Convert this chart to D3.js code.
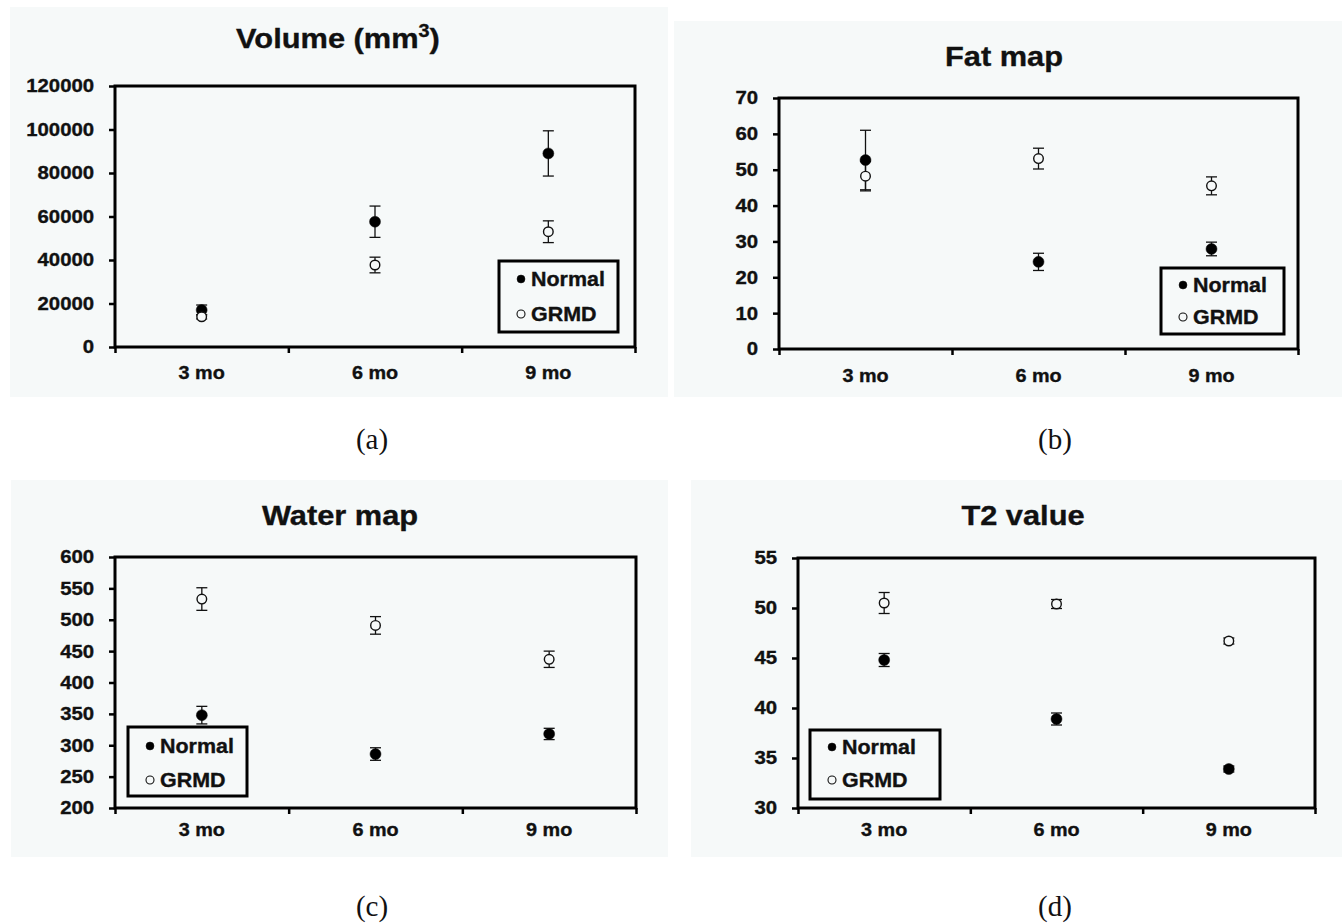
<!DOCTYPE html>
<html>
<head>
<meta charset="utf-8">
<script src="https://cdn.jsdelivr.net/npm/d3@7"></script>
<style>
  body { margin: 0; background: #fff; }
  svg text { font-family: "Liberation Sans", Arial, sans-serif; font-weight: bold; fill: #111; stroke: #111; stroke-width: 0.35px; }
  svg text.cap { font-family: "Liberation Serif", "Times New Roman", serif; font-weight: normal; stroke: none; }
</style>
</head>
<body>
<svg id="fig" width="1342" height="923"></svg>
<script>
// data
const categories = ["3 mo", "6 mo", "9 mo"];
const seriesNames = ["Normal", "GRMD"];

const volumeNormal = [17000, 57600, 89000];
const volumeNormalErr = [2300, 7200, 10400];
const volumeGRMD = [13900, 37700, 53000];
const volumeGRMDErr = [1000, 3600, 5000];
const volumeTicks = [0, 20000, 40000, 60000, 80000, 100000, 120000];

const fatNormal = [52.7, 24.3, 27.9];
const fatNormalErr = [8.3, 2.4, 1.9];
const fatGRMD = [48.2, 53.1, 45.5];
const fatGRMDErr = [4.1, 2.9, 2.5];
const fatTicks = [0, 10, 20, 30, 40, 50, 60, 70];

const waterNormal = [348, 286, 318];
const waterNormalErr = [14, 10, 9];
const waterGRMD = [533, 491, 437];
const waterGRMDErr = [18, 14, 13];
const waterTicks = [200, 250, 300, 350, 400, 450, 500, 550, 600];

const t2Normal = [44.8, 38.9, 33.9];
const t2NormalErr = [0.65, 0.6, 0.3];
const t2GRMD = [50.5, 50.4, 46.7];
const t2GRMDErr = [1.05, 0.45, 0.3];
const t2Ticks = [30, 35, 40, 45, 50, 55];

const captions = ["(a)", "(b)", "(c)", "(d)"];

// text in the picture is a bit wider than the font
const SX = 1.1;
const BG = "#f6f9f9";

const svg = d3.select("#fig");

const panels = [
  { title: "Volume (mm", sup: "3", normal: volumeNormal, normalErr: volumeNormalErr,
    grmd: volumeGRMD, grmdErr: volumeGRMDErr, ticks: volumeTicks,
    bg: [10, 7, 658, 390], plot: [115, 86, 520, 261], titleX: 338, titleY: 48, labelGap: 19,
    legend: [384, 175, 119, 71, 25, 60], cap: [372, 449] },
  { title: "Fat map", normal: fatNormal, normalErr: fatNormalErr,
    grmd: fatGRMD, grmdErr: fatGRMDErr, ticks: fatTicks,
    bg: [674, 21, 668, 376], plot: [779, 98, 519, 251], titleX: 1004, titleY: 66, labelGap: 20,
    legend: [382, 170, 123, 66, 24, 56], cap: [1055, 449] },
  { title: "Water map", normal: waterNormal, normalErr: waterNormalErr,
    grmd: waterGRMD, grmdErr: waterGRMDErr, ticks: waterTicks,
    bg: [11, 480, 657, 377], plot: [115, 557, 521, 251], titleX: 340, titleY: 525, labelGap: 15,
    legend: [13, 170, 119, 69, 26, 60], cap: [372, 916] },
  { title: "T2 value", normal: t2Normal, normalErr: t2NormalErr,
    grmd: t2GRMD, grmdErr: t2GRMDErr, ticks: t2Ticks,
    bg: [691, 480, 651, 377], plot: [798, 558, 517, 250], titleX: 1023, titleY: 525, labelGap: 15,
    legend: [12, 172, 130, 69, 24, 57], cap: [1055, 916] }
];

panels.forEach((p, i) => {
  // panel background
  svg.append("rect")
    .attr("x", p.bg[0]).attr("y", p.bg[1])
    .attr("width", p.bg[2]).attr("height", p.bg[3])
    .attr("fill", BG);

  // title
  const t = svg.append("text")
    .attr("transform", `translate(${p.titleX},${p.titleY}) scale(${SX},1)`)
    .attr("text-anchor", "middle")
    .attr("font-size", 28)
    .text(p.title);
  if (p.sup) {
    t.append("tspan").attr("dy", -11).attr("font-size", 18).text(p.sup);
    t.append("tspan").attr("dy", 11).text(")");
  }

  const [px, py, w, h] = p.plot;
  const g = svg.append("g").attr("transform", `translate(${px},${py})`);

  const y = d3.scaleLinear()
    .domain([p.ticks[0], p.ticks[p.ticks.length - 1]])
    .range([h, 0]);
  const xBand = d3.scaleBand().domain(categories).range([0, w]);
  const xEdge = d3.scaleLinear().domain([0, categories.length]).range([0, w]);

  // y axis
  const ya = g.append("g")
    .call(d3.axisLeft(y).tickValues(p.ticks).tickSize(6).tickPadding(13).tickFormat(d3.format("d")));
  ya.select(".domain").remove();
  ya.selectAll("line").attr("stroke", "#000").attr("stroke-width", 2.5);
  ya.selectAll("text").attr("font-size", 18.5).attr("transform", `scale(${SX},1)`);

  // x axis ticks on category edges
  const xt = g.append("g")
    .attr("transform", `translate(0,${h})`)
    .call(d3.axisBottom(xEdge).tickValues(d3.range(categories.length + 1)).tickSize(6).tickFormat(""));
  xt.select(".domain").remove();
  xt.selectAll("line").attr("stroke", "#000").attr("stroke-width", 2.5);

  // x labels
  const xl = g.append("g")
    .attr("transform", `translate(0,${h})`)
    .call(d3.axisBottom(xBand).tickSize(0).tickPadding(p.labelGap));
  xl.select(".domain").remove();
  xl.selectAll("text").attr("font-size", 18).attr("transform", `scale(${SX},1)`);

  // frame
  g.append("rect")
    .attr("width", w).attr("height", h)
    .attr("fill", "none").attr("stroke", "#000").attr("stroke-width", 3);

  const cx = d => xBand(d) + xBand.bandwidth() / 2;

  const series = [
    { name: seriesNames[0], vals: p.normal, errs: p.normalErr, filled: true },
    { name: seriesNames[1], vals: p.grmd, errs: p.grmdErr, filled: false }
  ];

  series.forEach(s => {
    const pts = categories.map((c, k) => ({ c, v: s.vals[k], e: s.errs[k] }));
    const eb = g.append("g").attr("stroke", "#111").attr("stroke-width", 1.3);
    eb.selectAll("line.v").data(pts).join("line")
      .attr("x1", d => cx(d.c)).attr("x2", d => cx(d.c))
      .attr("y1", d => y(d.v - d.e)).attr("y2", d => y(d.v + d.e));
    eb.selectAll("line.top").data(pts).join("line")
      .attr("x1", d => cx(d.c) - 5.5).attr("x2", d => cx(d.c) + 5.5)
      .attr("y1", d => y(d.v + d.e)).attr("y2", d => y(d.v + d.e));
    eb.selectAll("line.bot").data(pts).join("line")
      .attr("x1", d => cx(d.c) - 5.5).attr("x2", d => cx(d.c) + 5.5)
      .attr("y1", d => y(d.v - d.e)).attr("y2", d => y(d.v - d.e));
  });

  series.forEach(s => {
    const pts = categories.map((c, k) => ({ c, v: s.vals[k] }));
    g.append("g").selectAll("circle").data(pts).join("circle")
      .attr("cx", d => cx(d.c)).attr("cy", d => y(d.v))
      .attr("r", s.filled ? 5.5 : 4.8)
      .attr("fill", s.filled ? "#000" : BG)
      .attr("stroke", "#111").attr("stroke-width", s.filled ? 0.5 : 1.4);
  });

  // legend
  const [lx, ly, lw, lh, r1, r2] = p.legend;
  const lg = g.append("g").attr("transform", `translate(${lx},${ly})`);
  lg.append("rect").attr("width", lw).attr("height", lh)
    .attr("fill", BG).attr("stroke", "#000").attr("stroke-width", 3);
  [r1, r2].forEach((by, k) => {
    lg.append("circle")
      .attr("cx", 22).attr("cy", by - 7).attr("r", 4)
      .attr("fill", series[k].filled ? "#000" : BG)
      .attr("stroke", "#111").attr("stroke-width", series[k].filled ? 0.5 : 1.1);
    lg.append("text")
      .attr("transform", `translate(32,${by}) scale(${SX},1)`)
      .attr("font-size", 19.5)
      .text(series[k].name);
  });

  // caption
  svg.append("text").attr("class", "cap")
    .attr("x", p.cap[0]).attr("y", p.cap[1])
    .attr("text-anchor", "middle")
    .attr("font-size", 29)
    .text(captions[i]);
});
</script>
</body>
</html>
